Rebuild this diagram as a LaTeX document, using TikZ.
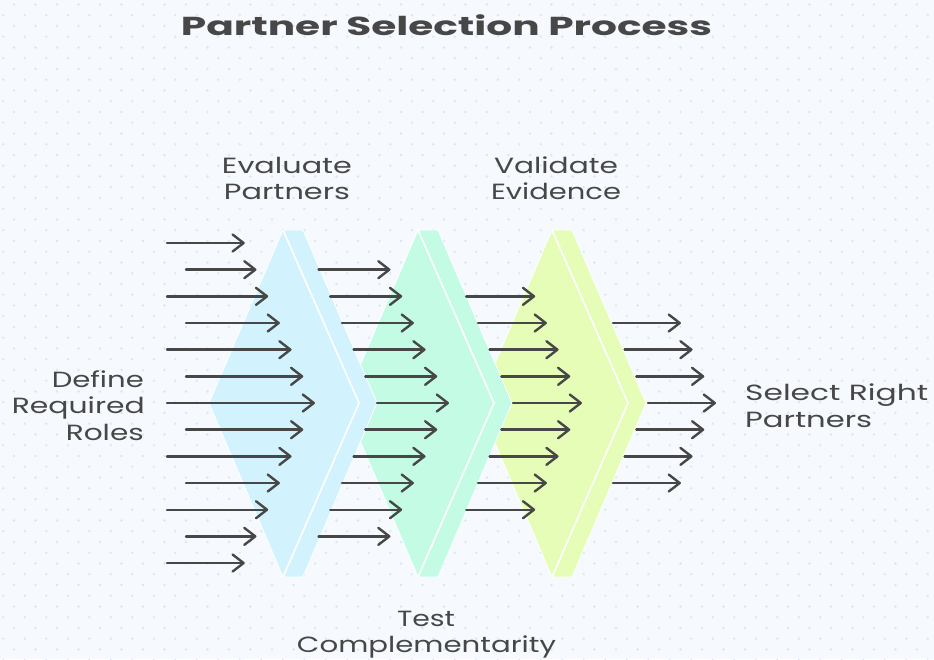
\documentclass[tikz,border=0pt]{standalone}
\usepackage{fontspec}
\setmainfont{Poppins}
\usetikzlibrary{arrows.meta}

\definecolor{bgc}{HTML}{F6FAFE}
\definecolor{dotc}{HTML}{DCE6F3}
\definecolor{ink}{HTML}{474747}
\definecolor{stageA}{HTML}{D2F3FE}
\definecolor{stageB}{HTML}{C4FBE4}
\definecolor{stageC}{HTML}{E6FDB8}

% stretch a line of text horizontally to a given width
\newcommand{\fitw}[2]{\resizebox{#1}{\height}{#2}}

\begin{document}
\begin{tikzpicture}[x=1pt,y=-1pt,
  flow/.style={draw=ink, line width=2.4pt, line cap=round,
    -{Straight Barb[length=11pt,width=17pt,round]}},
  stagebox/.style={draw=white, line width=0.8pt, line join=round},
  seam/.style={draw=white, line width=1.6pt},
  lbl/.style={inner sep=0pt, text=ink, font=\fontsize{22}{27}\selectfont},
  ttl/.style={inner sep=0pt, text=ink, font=\bfseries\fontsize{26}{30}\selectfont}]

% canvas and dotted grid
\fill[bgc] (0,0) rectangle (934,659);
\useasboundingbox (0,0) rectangle (934,659);
\foreach \n in {0,...,43}{
  \foreach \m in {0,...,30}{
    \fill[dotc] ({3.3+21.5*\n},{15.2+21.5*\m}) circle (1.3pt);
    \fill[dotc] ({14+21.5*\n},{4.5+21.5*\m}) circle (1.3pt);
  }
}

% the three funnel stages, back to front
\foreach \T/\c in {552/stageC, 418/stageB, 283/stageA}{
  \filldraw[fill=\c, stagebox] ({\T-74},403) -- (\T,230) -- ({\T+20},230)
    -- ({\T+94},403) -- ({\T+20},577) -- (\T,577) -- cycle;
  \draw[seam] (\T,230) -- ({\T+76},403) -- (\T,577);
}

% flow arrows through the stages
\foreach \i in {0,...,12}{
  \pgfmathsetmacro\yy{243+26.67*\i}
  \pgfmathtruncatemacro\dd{abs(\i-6)}
  \pgfmathsetmacro\xs{isodd(\i) ? 186 : 167}
  \draw[flow] (\xs,\yy) -- ({315-11.7*\dd},\yy);
  \ifnum\dd<6
    \draw[flow] ({377-11.7*\dd},\yy) -- ({449-11.7*\dd},\yy);
  \fi
  \ifnum\dd<5
    \draw[flow] ({513-11.7*\dd},\yy) -- ({582-11.7*\dd},\yy);
  \fi
  \ifnum\dd<4
    \draw[flow] ({648-11.7*\dd},\yy) -- ({716-11.7*\dd},\yy);
  \fi
}

% title and stage labels
\node[ttl, anchor=base] (title) at (446.5,35) {\fitw{531pt}{Partner Selection Process}};

\node[lbl, anchor=base east] (defineA) at (144,387) {\fitw{92pt}{Define}};
\node[lbl, anchor=base east] (defineB) at (145,413) {\fitw{133pt}{Required}};
\node[lbl, anchor=base east] (defineC) at (144,440) {\fitw{78pt}{Roles}};

\node[lbl, anchor=base] (evalA) at (287,173) {\fitw{130pt}{Evaluate}};
\node[lbl, anchor=base] (evalB) at (287,199) {\fitw{126pt}{Partners}};

\node[lbl, anchor=base] (validA) at (556,173) {\fitw{124pt}{Validate}};
\node[lbl, anchor=base] (validB) at (556,199) {\fitw{130pt}{Evidence}};

\node[lbl, anchor=base] (testA) at (426,626) {\fitw{58pt}{Test}};
\node[lbl, anchor=base] (testB) at (426.5,652) {\fitw{259pt}{Complementarity}};

\node[lbl, anchor=base west] (selectA) at (745,400) {\fitw{183pt}{Select Right}};
\node[lbl, anchor=base west] (selectB) at (745,427) {\fitw{127pt}{Partners}};
\end{tikzpicture}
\end{document}
